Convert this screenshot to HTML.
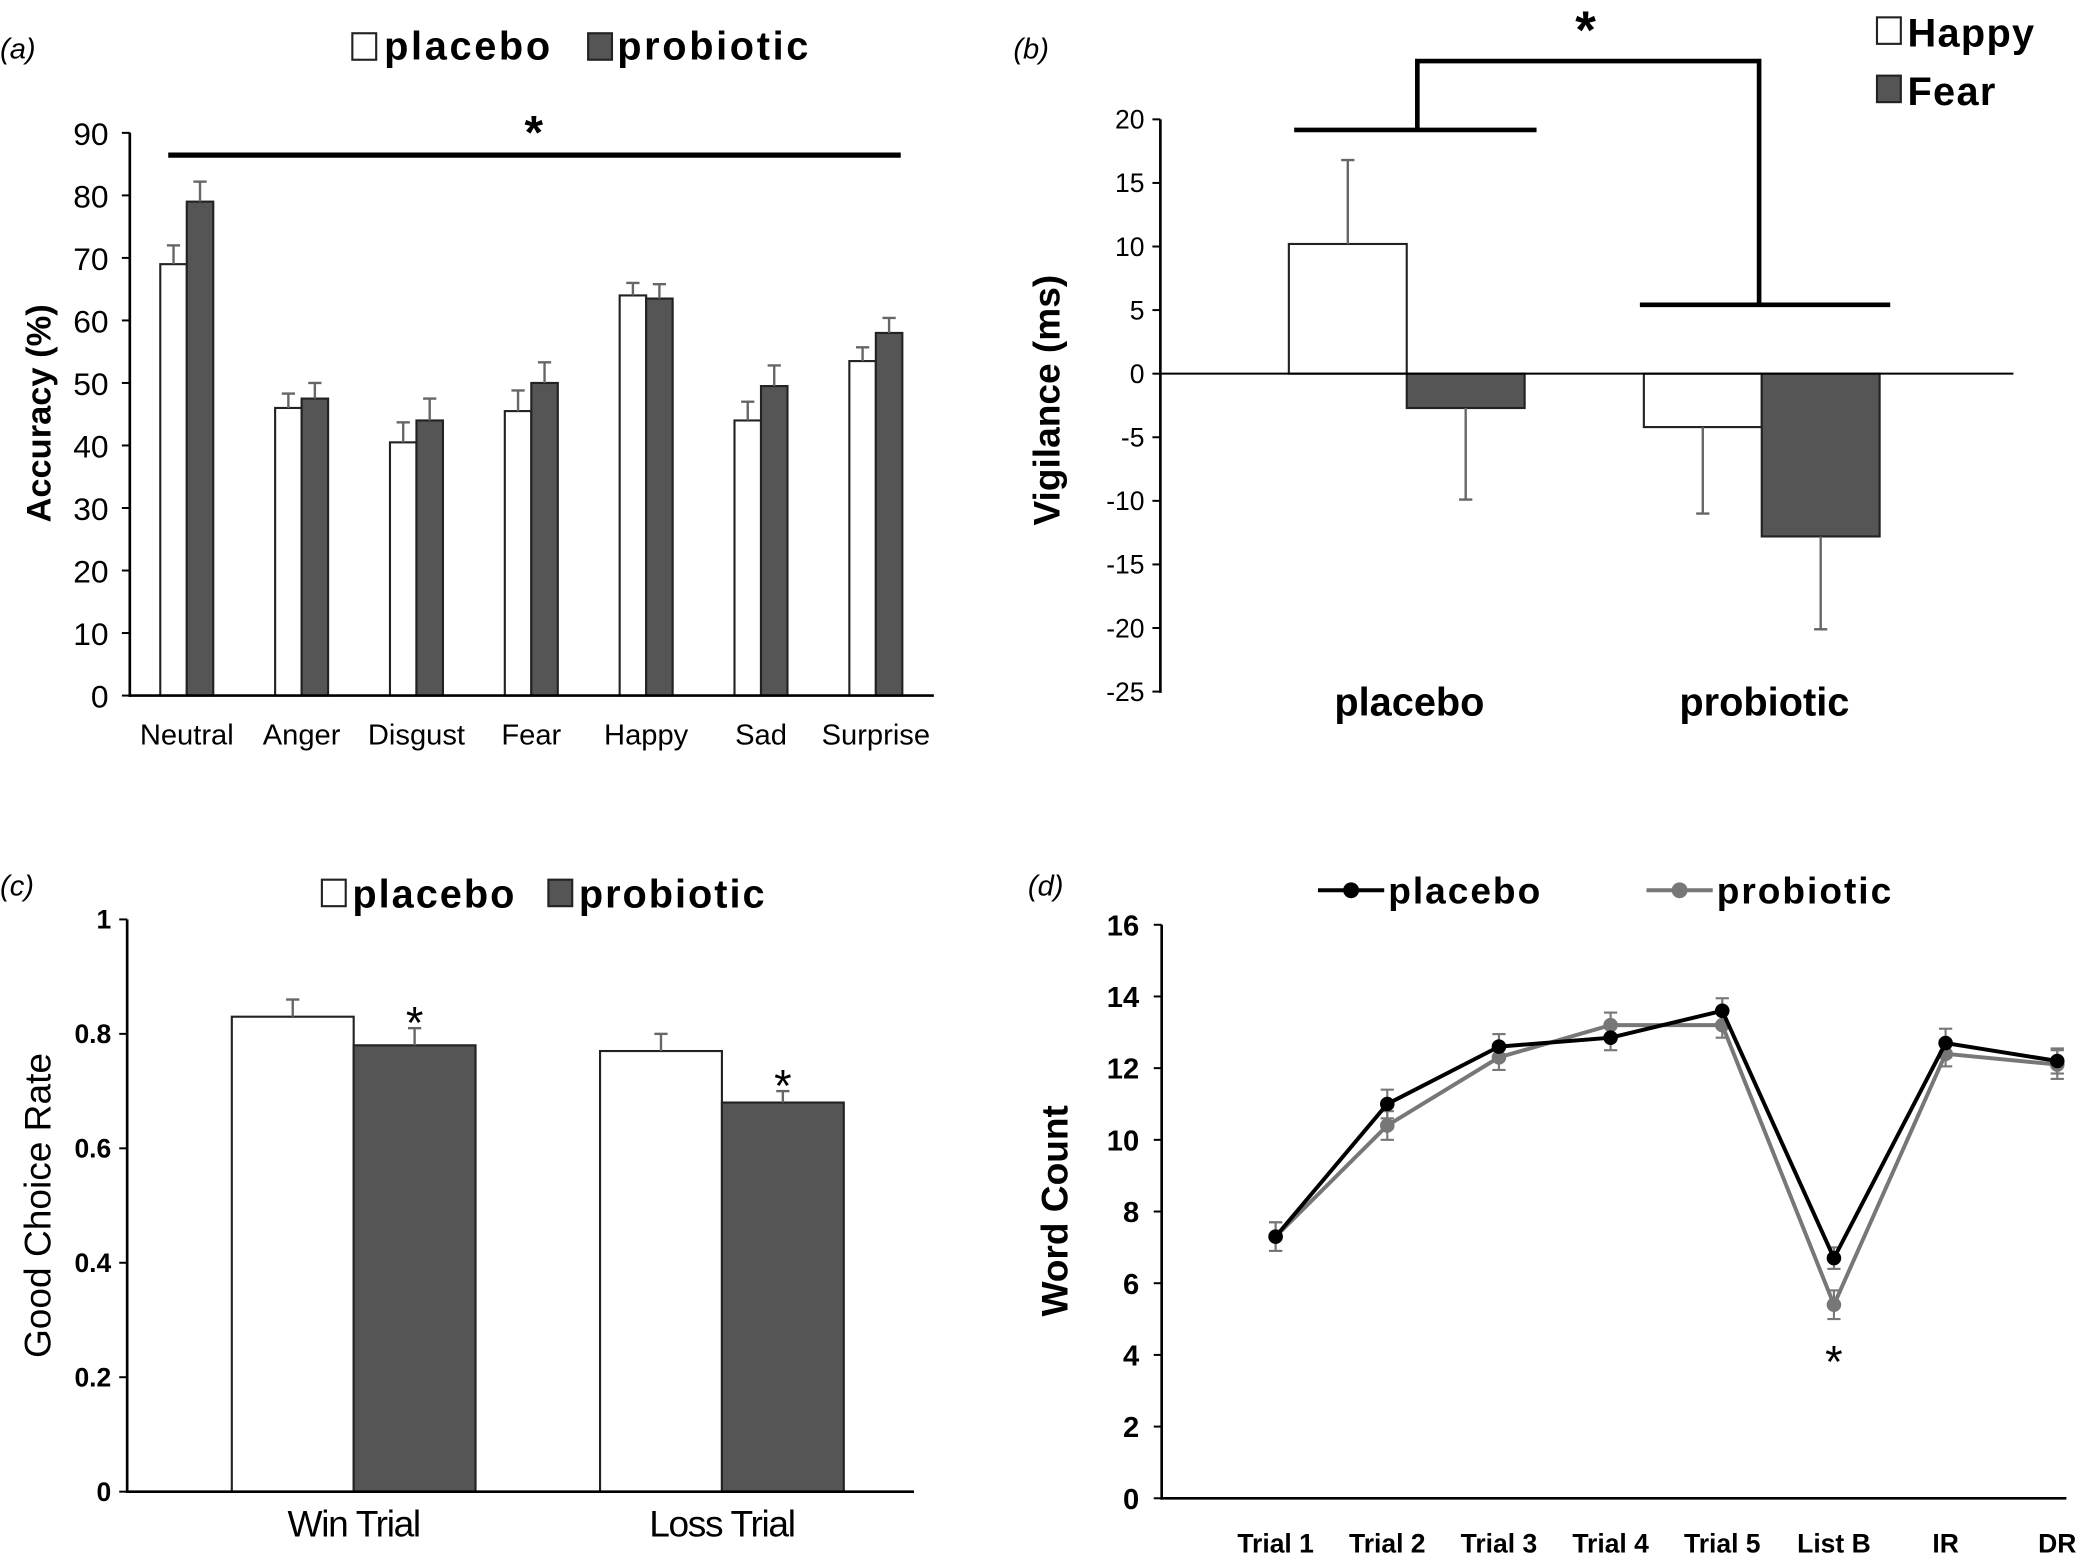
<!DOCTYPE html>
<html><head><meta charset="utf-8"><style>
html,body{margin:0;padding:0;background:#fff}
svg{display:block}
text{font-family:"Liberation Sans",sans-serif}
</style></head><body>
<svg id="c" width="2077" height="1562" viewBox="0 0 1568 1179" xmlns="http://www.w3.org/2000/svg"></svg>
<script>
const catsA=["Neutral","Anger","Disgust","Fear","Happy","Sad","Surprise"];
const placA=[69,46,40.5,45.5,64,44,53.5];
const placAErr=[3,2.3,3.2,3.3,2,3,2.2];
const probA=[79,47.5,44,50,63.5,49.5,58];
const probAErr=[3.2,2.5,3.5,3.3,2.3,3.3,2.4];
const ticksA=[0,10,20,30,40,50,60,70,80,90];
const groupsB=["placebo","probiotic"];
const happyB=[10.2,-4.2];
const happyBErr=[6.6,6.8];
const fearB=[-2.7,-12.8];
const fearBErr=[7.2,7.3];
const ticksB=[20,15,10,5,0,-5,-10,-15,-20,-25];
const catsC=["Win Trial","Loss Trial"];
const placC=[0.83,0.77];
const placCErr=[0.03,0.03];
const probC=[0.78,0.68];
const probCErr=[0.03,0.02];
const ticksC=[0,0.2,0.4,0.6,0.8,1];
const catsD=["Trial 1","Trial 2","Trial 3","Trial 4","Trial 5","List B","IR","DR"];
const placD=[7.3,11,12.6,12.85,13.6,6.7,12.7,12.2];
const placDErr=[0.4,0.4,0.35,0.35,0.35,0.3,0.4,0.35];
const probD=[7.3,10.4,12.3,13.2,13.2,5.4,12.4,12.1];
const probDErr=[0.4,0.4,0.35,0.35,0.35,0.4,0.35,0.4];
const ticksD=[0,2,4,6,8,10,12,14,16];

const S=document.getElementById('c');const NS="http://www.w3.org/2000/svg";
function el(t,a,txt){const e=document.createElementNS(NS,t);for(const k in a)e.setAttribute(k,a[k]);if(txt!==undefined)e.textContent=txt;S.appendChild(e);return e;}
function line(x1,y1,x2,y2,w,c,n){const e=el('line',{x1,y1,x2,y2,stroke:c||'#000','stroke-width':w||2});return e;}
function txt(x,y,s,o,n){const e=el('text',Object.assign({x,y},o),s);return e;}
function rect(x,y,w,h,f,n){const e=el('rect',{x,y,width:w,height:h,fill:f,stroke:'#222','stroke-width':1.6});return e;}
function err(x,y1,y2,n){line(x,y1,x,y2,1.8,'#666',n);line(x-5,y2,x+5,y2,1.8,'#666',n);}
const DARK='#555';

// Panel a
(function(){
const y=v=>525-v*4.72, cx=i=>141+i*86.7, bw=20;
txt(0,44,"(a)",{'font-size':22,'font-style':'italic'},'panel-label-a');
rect(266,25,18,20,'#fff','legend-placebo-swatch');txt(290,45,"placebo",{'font-size':30,'font-weight':'bold','letter-spacing':'2'},'legend-placebo');
rect(444,25,18,20,DARK,'legend-probiotic-swatch');txt(466,45,"probiotic",{'font-size':30,'font-weight':'bold','letter-spacing':'2'},'legend-probiotic');
ticksA.forEach(t=>{line(92,y(t),98,y(t),1.5,'#000','y-tick');txt(82,y(t)+9,t,{'font-size':24,'text-anchor':'end'},'y-tick-label');});
txt(0,0,"Accuracy (%)",{'font-size':26,'font-weight':'bold','text-anchor':'middle',transform:`translate(38,312) rotate(-90)`},'y-axis-title');
catsA.forEach((c,i)=>{
 rect(cx(i)-bw,y(placA[i]),bw,y(0)-y(placA[i]),'#fff','bar-placebo-'+c.toLowerCase());
 err(cx(i)-bw/2,y(placA[i]),y(placA[i]+placAErr[i]),'error-bar');
 rect(cx(i),y(probA[i]),bw,y(0)-y(probA[i]),DARK,'bar-probiotic-'+c.toLowerCase());
 err(cx(i)+bw/2,y(probA[i]),y(probA[i]+probAErr[i]),'error-bar');
 txt(cx(i),562,c,{'font-size':22,'text-anchor':'middle','font-family':'Liberation Sans Narrow'},'x-tick-label');
});
line(98,100,98,526,2,'#000','y-axis');line(97,525,705,525,2,'#000','x-axis');
line(127,117,680,117,4,'#000','significance-line');
txt(403,112,"*",{'font-size':36,'font-weight':'bold','text-anchor':'middle'},'significance-star');
})();

// Panel b
(function(){
const y=v=>282-v*9.6, bw=89, gx=[1062,1330];
txt(765,44,"(b)",{'font-size':22,'font-style':'italic'},'panel-label-b');
rect(1417,13,18,20,'#fff','legend-happy-swatch');txt(1440,35,"Happy",{'font-size':30,'font-weight':'bold','letter-spacing':'1'},'legend-happy');
rect(1417,57,18,20,DARK,'legend-fear-swatch');txt(1440,79,"Fear",{'font-size':30,'font-weight':'bold','letter-spacing':'1'},'legend-fear');
ticksB.forEach(t=>{line(870,y(t),876,y(t),1.5,'#000','y-tick');txt(864,y(t)+7,t,{'font-size':20,'text-anchor':'end'},'y-tick-label');});
txt(0,0,"Vigilance (ms)",{'font-size':28,'font-weight':'bold','text-anchor':'middle',transform:`translate(800,302) rotate(-90)`},'y-axis-title');
groupsB.forEach((g,i)=>{
 const h=happyB[i],f=fearB[i];
 rect(gx[i]-bw,Math.min(y(h),y(0)),bw,Math.abs(y(h)-y(0)),'#fff','bar-happy-'+g);
 const hs=h>=0?1:-1;err(gx[i]-bw/2,y(h),y(h+hs*happyBErr[i]),'error-bar');
 rect(gx[i],Math.min(y(f),y(0)),bw,Math.abs(y(f)-y(0)),DARK,'bar-fear-'+g);
 const fs=f>=0?1:-1;err(gx[i]+bw/2,y(f),y(f+fs*fearBErr[i]),'error-bar');
 txt(gx[i]+2,540,g,{'font-size':30,'font-weight':'bold','text-anchor':'middle'},'x-tick-label');
});
line(876,90,876,523,2,'#000','y-axis');line(876,y(0),1520,y(0),1.5,'#000','zero-line');
line(977,98,1160,98,3.5,'#000','bracket');line(1238,230,1427,230,3.5,'#000','bracket');
const p=el('polyline',{points:'1070,98 1070,46 1328,46 1328,230',fill:'none',stroke:'#000','stroke-width':3.5});

txt(1197,36,"*",{'font-size':40,'font-weight':'bold','text-anchor':'middle'},'significance-star');
})();

// Panel c
(function(){
const y=v=>1126-v*432, bw=92, gx=[267,545];
txt(0,676,"(c)",{'font-size':22,'font-style':'italic'},'panel-label-c');
rect(243,664,18,20,'#fff','legend-placebo-swatch');txt(266,685,"placebo",{'font-size':30,'font-weight':'bold','letter-spacing':'1.5'},'legend-placebo');
rect(414,664,18,20,DARK,'legend-probiotic-swatch');txt(437,685,"probiotic",{'font-size':30,'font-weight':'bold','letter-spacing':'1.5'},'legend-probiotic');
ticksC.forEach(t=>{line(90,y(t),96,y(t),1.5,'#000','y-tick');txt(84,y(t)+7,t,{'font-size':20,'font-weight':'bold','text-anchor':'end'},'y-tick-label');});
txt(0,0,"Good Choice Rate",{'font-size':28,'text-anchor':'middle',transform:`translate(38,910) rotate(-90)`},'y-axis-title');
catsC.forEach((c,i)=>{
 rect(gx[i]-bw,y(placC[i]),bw,y(0)-y(placC[i]),'#fff','bar-placebo-'+i);
 err(gx[i]-bw/2,y(placC[i]),y(placC[i]+placCErr[i]),'error-bar');
 rect(gx[i],y(probC[i]),bw,y(0)-y(probC[i]),DARK,'bar-probiotic-'+i);
 err(gx[i]+bw/2,y(probC[i]),y(probC[i]+probCErr[i]),'error-bar');
 txt(gx[i]+bw/2,y(probC[i]+probCErr[i])+8,"*",{'font-size':34,'text-anchor':'middle'},'significance-star');
 txt(gx[i],1160,c,{'font-size':28,'text-anchor':'middle','letter-spacing':'-1'},'x-tick-label');
});
line(96,694,96,1127,2,'#000','y-axis');line(95,1126,690,1126,2,'#000','x-axis');
})();

// Panel d
(function(){
const y=v=>1131-v*27.06, cx=i=>963+i*84.3;
txt(776,676,"(d)",{'font-size':22,'font-style':'italic'},'panel-label-d');
line(995,672,1045,672,3,'#000','legend-placebo-line');el('circle',{cx:1020,cy:672,r:6,fill:'#000'});
txt(1048,682,"placebo",{'font-size':28,'font-weight':'bold','letter-spacing':'1.5'},'legend-placebo');
line(1243,672,1293,672,3,'#777','legend-probiotic-line');el('circle',{cx:1268,cy:672,r:6,fill:'#777'});
txt(1296,682,"probiotic",{'font-size':28,'font-weight':'bold','letter-spacing':'1.5'},'legend-probiotic');
ticksD.forEach(t=>{line(871,y(t),877,y(t),1.5,'#000','y-tick');txt(860,y(t)+8,t,{'font-size':22,'font-weight':'bold','text-anchor':'end'},'y-tick-label');});
txt(0,0,"Word Count",{'font-size':28,'font-weight':'bold','text-anchor':'middle',transform:`translate(806,914) rotate(-90)`},'y-axis-title');
[[probD,probDErr,'#777','probiotic'],[placD,placDErr,'#000','placebo']].forEach(([d,e,c,n])=>{
 d.forEach((v,i)=>{line(cx(i),y(v-e[i]),cx(i),y(v+e[i]),1.6,'#777','error-bar');line(cx(i)-5,y(v-e[i]),cx(i)+5,y(v-e[i]),1.6,'#777','error-cap');line(cx(i)-5,y(v+e[i]),cx(i)+5,y(v+e[i]),1.6,'#777','error-cap');});
 const pl=el('polyline',{points:d.map((v,i)=>cx(i)+','+y(v)).join(' '),fill:'none',stroke:c,'stroke-width':3});
 
 d.forEach((v,i)=>{const ci=el('circle',{cx:cx(i),cy:y(v),r:5.5,fill:c});});
});
catsD.forEach((c,i)=>txt(cx(i),1172,c,{'font-size':20,'font-weight':'bold','text-anchor':'middle'},'x-tick-label'));
txt(cx(5),1040,"*",{'font-size':34,'text-anchor':'middle'},'significance-star');
line(877,698,877,1132,2,'#000','y-axis');line(876,1131,1560,1131,2,'#000','x-axis');
})();
</script>
</body></html>
